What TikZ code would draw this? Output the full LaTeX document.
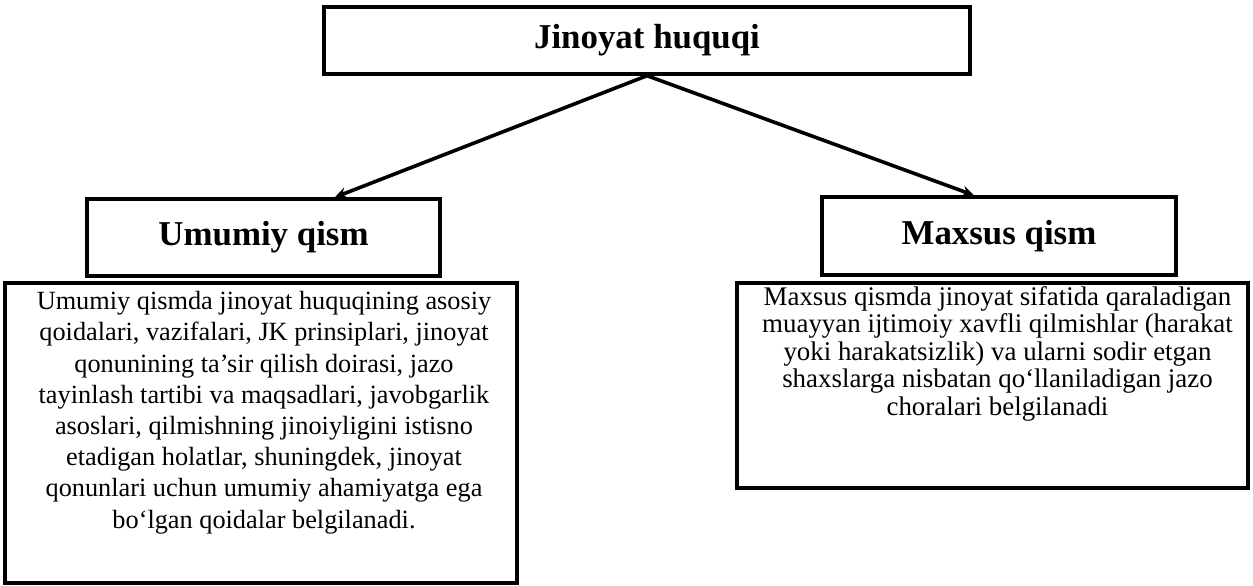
\documentclass[tikz,border=0pt]{standalone}
\usepackage{fontspec}
\setmainfont{Liberation Serif}
\usetikzlibrary{arrows.meta,calc}
\tikzset{
  framebox/.style={draw=black, line width=3.4bp, inner sep=0pt, fill=white},
  headtext/.style={font=\fontsize{35}{40}\selectfont\bfseries},
  bodytext/.style={align=center, inner sep=0pt, anchor=north},
  connector/.style={line width=3.6bp, -{Stealth[length=12bp,width=11bp]}}
}
\begin{document}
\begin{tikzpicture}[x=1bp,y=-1bp]
\useasboundingbox[fill=white] (0,0) rectangle (1253,586);
% top box
\node[framebox, minimum width=646bp, minimum height=67bp, headtext] (top) at (647,40.5) {Jinoyat huquqi};
% second level
\node[framebox, minimum width=353bp, minimum height=77bp, headtext] (umumiy) at (263.5,237.5) {Umumiy qism};
\node[framebox, minimum width=354bp, minimum height=78bp, headtext] (maxsus) at (999,236) {Maxsus qism};
% description boxes
\node[framebox, minimum width=512bp, minimum height=300bp] (ltext) at (261,433) {};
\node[framebox, minimum width=511bp, minimum height=205bp] (rtext) at (992.5,385.5) {};
\node[bodytext, font=\fontsize{26.4}{31.3}\selectfont] (ldesc) at ($(ltext.north)+(3,10)$) {Umumiy qismda jinoyat huquqining asosiy\\qoidalari, vazifalari, JK prinsiplari, jinoyat\\qonunining ta’sir qilish doirasi, jazo\\tayinlash tartibi va maqsadlari, javobgarlik\\asoslari, qilmishning jinoiyligini istisno\\etadigan holatlar, shuningdek, jinoyat\\qonunlari uchun umumiy ahamiyatga ega\\bo‘lgan qoidalar belgilanadi.};
\node[bodytext, font=\fontsize{27}{27.5}\selectfont] (rdesc) at ($(rtext.north)+(5,5)$) {Maxsus qismda jinoyat sifatida qaraladigan\\muayyan ijtimoiy xavfli qilmishlar (harakat\\yoki harakatsizlik) va ularni sodir etgan\\shaxslarga nisbatan qo‘llaniladigan jazo\\choralari belgilanadi};
% connectors
\coordinate (lend) at ($(umumiy.north west)!0.70!(umumiy.north east)$);
\coordinate (rend) at ($(maxsus.north west)!0.43!(maxsus.north east)$);
\draw[connector] (top.south) -- (lend);
\draw[connector] (top.south) -- (rend);
\end{tikzpicture}
\end{document}
